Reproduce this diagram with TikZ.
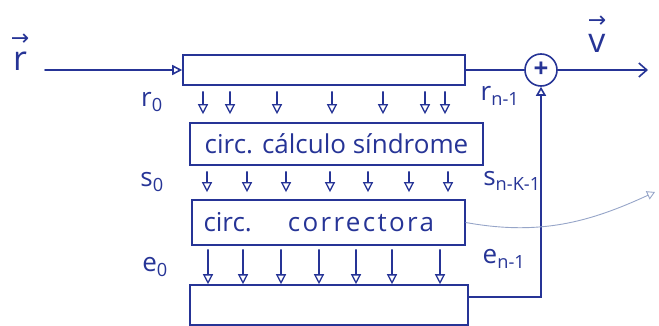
\documentclass[tikz,border=0pt]{standalone}
\usepackage{fontspec}
\setmainfont{Open Sans}
\newfontfamily\symf{DejaVu Sans}
\usetikzlibrary{arrows.meta,positioning}

\definecolor{ink}{RGB}{38,52,150}
\definecolor{pencil}{RGB}{150,165,200}

% letter with a small arrow on top
\newcommand{\vecletter}[1]{\shortstack{{\symf\fontsize{22}{22}\selectfont →}\\[4pt]{\fontsize{34}{34}\selectfont #1}}}

\begin{document}
\begin{tikzpicture}[x=1pt, y=-1pt, ink, line width=1.6pt, line cap=round,
		font=\fontsize{26}{28}\selectfont,
		box/.style={draw, rectangle, inner sep=0pt},
		bit/.style={-{Triangle[open, length=10pt, width=10pt]}, line width=1.3pt},
		lbl/.style={inner sep=0pt}]
	\useasboundingbox (0,0) rectangle (659,326);

	% registers and circuits
	\node[box, minimum width=282, minimum height=30] (rin) at (324,70) {};
	\node[box, minimum width=293, minimum height=42] (sind) at (336.5,144) {circ. c\'alculo s\'indrome};
	\node[box, minimum width=273, minimum height=45, text width=262pt] (corr) at (328.5,222.5)
		{\hspace{6pt}circ.\hspace{36pt}{\addfontfeature{LetterSpace=9}correctora}};
	\node[box, minimum width=278, minimum height=40] (out) at (329,305) {};
	\node[draw, circle, minimum size=32pt, inner sep=0pt] (sum) at (541,70) {\textbf{+}};

	% input and output
	\coordinate (rx) at (45,70);
	\coordinate (vx) at (648,70);
	\node[lbl] (rlab) at (20,52) {\vecletter{r}};
	\node[lbl] (vlab) at (597,34) {\vecletter{v}};
	\draw[-{Triangle[open, length=10pt, width=10pt]}] (rx) -- (rin.west);
	\draw (rin.east) -- (sum.west);
	\draw[-{Straight Barb[length=8pt, width=14pt]}] (sum.east) -- (vx);

	% feedback from the lower register
	\coordinate (fb) at (541,297);
	\draw[-{Triangle[open, length=9pt, width=10pt]}] (out.east |- fb) -- (fb) -- (sum.south);

	% bit lines
	\foreach \x in {203,230,277,332,383,425,445}
		\draw[bit] ([yshift=-6pt]\x,0 |- rin.south) -- ([yshift=8pt]\x,0 |- sind.north);
	\foreach \x in {207,247,286,330,368,409,448}
		\draw[bit] ([yshift=-6pt]\x,0 |- sind.south) -- ([yshift=7pt]\x,0 |- corr.north);
	\foreach \x in {208,243,281,319,356,392,440}
		\draw[bit] ([yshift=-4pt]\x,0 |- corr.south) -- (\x,0 |- out.north);

	% bit labels
	\node[lbl] (r0) at (152,102) {r\textsubscript{0}};
	\node[lbl] (rn) at (500,96) {r\textsubscript{n-1}};
	\node[lbl] (s0) at (152,182) {s\textsubscript{0}};
	\node[lbl] (sn) at (512,181) {s\textsubscript{n-K-1}};
	\node[lbl] (e0) at (155,267) {e\textsubscript{0}};
	\node[lbl] (en) at (504,259) {e\textsubscript{n-1}};

	% pencil note
	\coordinate (nt) at (655,192);
	\draw[pencil, line width=0.9pt, -{Triangle[open, length=8pt, width=9pt]}]
		(corr.east) .. controls (540,236) and (590,222) .. (nt);
\end{tikzpicture}
\end{document}
